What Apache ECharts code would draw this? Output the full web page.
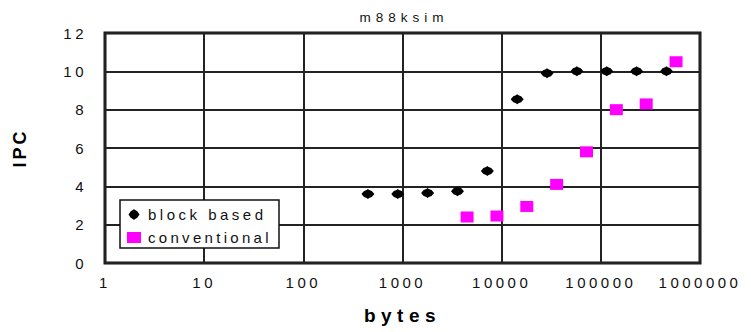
<!DOCTYPE html>
<html>
<head>
<meta charset="utf-8">
<script src="https://cdn.jsdelivr.net/npm/echarts@6/dist/echarts.min.js"></script>
<style>
  html, body { margin: 0; padding: 0; background: #fff; }
  #chart { width: 751px; height: 332px; }
</style>
</head>
<body>
<div id="chart"></div>
<script>
// block based (bytes, IPC)
var blockBytes = [448, 896, 1792, 3584, 7168, 14336, 28672, 57344, 114688, 229376, 458752];
var blockIpc = [3.6, 3.6, 3.65, 3.75, 4.8, 8.55, 9.9, 10.0, 10.0, 10.0, 10.0];
// conventional
var convBytes = [4480, 8960, 17920, 35840, 71680, 143360, 286720, 573440];
var convIpc = [2.4, 2.45, 2.95, 4.1, 5.8, 8.0, 8.3, 10.5];
var xTicks = [1, 10, 100, 1000, 10000, 100000, 1000000];
var yTicks = [0, 2, 4, 6, 8, 10, 12];

var blobPath = 'path://M0,5 L2,2 L4,1 L5,0 L6,1 L8,2 L10,5 L8,8 L6,9 L5,10 L4,9 L2,8 Z';
var font = 'Liberation Sans';

function pairs(xs, ys) {
  return xs.map(function (x, i) { return [x, ys[i]]; });
}

var myChart = echarts.init(document.getElementById('chart'), null, { renderer: 'svg' });

var option = {
  animation: false,
  backgroundColor: '#fff',
  title: {
    text: 'm88ksim',
    left: 399,
    textAlign: 'center',
    top: 5,
    textStyle: { fontSize: 13.5, fontWeight: 'normal', color: '#111', fontFamily: font }
  },
  legend: {
    orient: 'vertical',
    left: 120,
    top: 200,
    padding: [7, 4, 3, 7],
    itemGap: 8,
    itemWidth: 14,
    itemHeight: 11,
    borderColor: '#111',
    borderWidth: 1.5,
    backgroundColor: '#fff',
    z: 10,
    textStyle: { fontSize: 15, lineHeight: 15, color: '#111', fontFamily: font, width: 127, padding: [0, 0, 0, 2] },
    data: [
      { name: 'block based', icon: blobPath, itemStyle: { color: '#000' } },
      { name: 'conventional', icon: 'rect', itemStyle: { color: '#ff00ff' } }
    ]
  },
  grid: {
    left: 105, right: 51, top: 33, bottom: 69,
    outerBoundsMode: 'none',
    containLabel: false,
    show: true, borderColor: '#111', borderWidth: 3
  },
  xAxis: {
    type: 'log',
    logBase: 10,
    min: xTicks[0],
    max: xTicks[xTicks.length - 1],
    name: 'bytes',
    nameLocation: 'middle',
    nameGap: 43,
    nameTextStyle: { fontSize: 19, fontWeight: 'bold', color: '#000', fontFamily: font },
    axisLine: { show: false },
    axisTick: { show: false },
    axisLabel: {
      margin: 12, fontSize: 15, color: '#111', fontFamily: font,
      formatter: function (v) { return String(Math.round(v)); }
    },
    splitLine: { show: true, lineStyle: { color: '#222', width: 2 } }
  },
  yAxis: {
    type: 'value',
    min: yTicks[0],
    max: yTicks[yTicks.length - 1],
    interval: 2,
    name: 'IPC',
    nameLocation: 'middle',
    nameRotate: 90,
    nameGap: 76,
    nameTextStyle: { fontSize: 18, fontWeight: 'bold', color: '#000', fontFamily: font },
    axisLine: { show: false },
    axisTick: { show: false },
    axisLabel: { margin: 18, fontSize: 15, color: '#111', fontFamily: font },
    splitLine: { show: true, lineStyle: { color: '#222', width: 2 } }
  },
  series: [
    {
      name: 'block based',
      type: 'scatter',
      symbol: blobPath,
      symbolSize: [13, 10],
      itemStyle: { color: '#000', opacity: 1 },
      data: pairs(blockBytes, blockIpc)
    },
    {
      name: 'conventional',
      type: 'scatter',
      symbol: 'rect',
      symbolSize: [13, 11],
      itemStyle: { color: '#ff00ff', opacity: 1 },
      data: pairs(convBytes, convIpc)
    }
  ]
};

myChart.setOption(option);

// the original printout has widely spaced letters
var spacing = { 'm88ksim': 5, 'block based': 3.5, 'conventional': 3.3, 'bytes': 5.5, 'IPC': 3 };
document.querySelectorAll('#chart text').forEach(function (t) {
  var s = spacing.hasOwnProperty(t.textContent) ? spacing[t.textContent] : 3.5;
  t.setAttribute('letter-spacing', s + 'px');
});
</script>
</body>
</html>
